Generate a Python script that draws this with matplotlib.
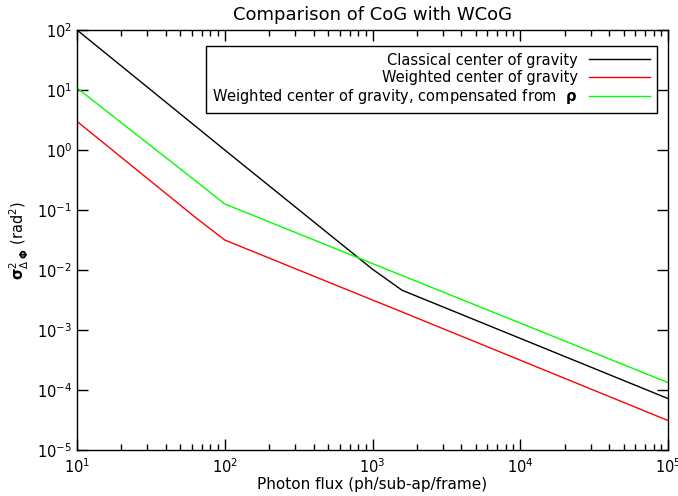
import numpy as np
import matplotlib
matplotlib.use('Agg')
import matplotlib.pyplot as plt
from matplotlib.ticker import LogLocator, NullLocator

# photon flux samples (ph/sub-ap/frame)
flux = [10, 63, 100, 1000, 1585, 100000]

# variance of phase difference (rad^2)
cog = [100.0, 2.52, 1.0, 0.0103, 0.0046, 7.2e-5]
wcog = [3.0, 0.076, 0.0316, 0.00316, 0.0020, 3.1e-5]
wcog_comp = [10.8, 0.31, 0.126, 0.0128, 0.0081, 1.33e-4]

labels = ['Classical center of gravity',
          'Weighted center of gravity',
          r'Weighted center of gravity, compensated from  $\mathbf{\rho}$']

fig = plt.figure(figsize=(6.78, 4.96), dpi=100)
ax = fig.add_axes([77/678, 1 - 450/496, 591/678, 420/496])

ax.plot(flux, cog, color='black', lw=1.0, label=labels[0])
ax.plot(flux, wcog, color='#ff0000', lw=1.0, label=labels[1])
ax.plot(flux, wcog_comp, color='#00ff00', lw=1.0, label=labels[2])

ax.set_xscale('log')
ax.set_yscale('log')
ax.set_xlim(10, 1e5)
ax.set_ylim(1e-5, 1e2)

# ticks like IDL: inward, on all sides, minor only on x
ax.xaxis.set_major_locator(LogLocator(base=10, numticks=10))
ax.xaxis.set_minor_locator(LogLocator(base=10, subs=np.arange(2, 10), numticks=10))
ax.yaxis.set_major_locator(LogLocator(base=10, numticks=10))
ax.yaxis.set_minor_locator(NullLocator())
ax.tick_params(which='both', direction='in', top=True, right=True, labelsize=10.5)
ax.tick_params(which='major', length=8, width=1)
ax.tick_params(which='minor', length=4, width=1)
ax.tick_params(axis='x', pad=5)
for s in ax.spines.values():
    s.set_linewidth(1)

ax.set_title('Comparison of CoG with WCoG', fontsize=13, pad=7)
ax.set_xlabel('Photon flux (ph/sub-ap/frame)', fontsize=11, labelpad=1)
ax.set_ylabel(r'$\mathbf{\sigma}^2_{\Delta\ \mathbf{\Phi}}$ (rad$^2$)', fontsize=10.5)

leg = ax.legend(loc='upper right', bbox_to_anchor=(580/591, 404/420),
                borderaxespad=0, markerfirst=False, fontsize=10.5,
                handlelength=4.2, fancybox=False, framealpha=1,
                edgecolor='black', labelspacing=0.15, borderpad=0.45)
leg.get_frame().set_linewidth(1)
for t in leg.get_texts():
    t.set_ha('right')

fig.savefig('out.png', dpi=100)
